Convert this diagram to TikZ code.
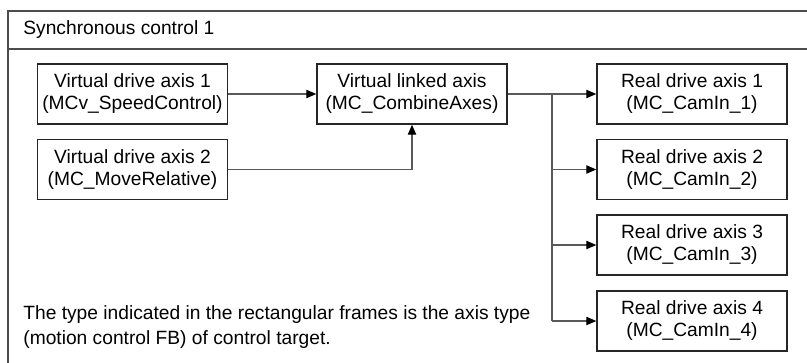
\documentclass[tikz,border=0pt]{standalone}
\usepackage{fontspec}
\setmainfont{Liberation Sans}
\usepackage{tikz}
\usetikzlibrary{arrows.meta, positioning, calc}

\begin{document}
\begin{tikzpicture}[
    x=0.5pt, y=-0.5pt,
    box/.style={draw=black!85, line width=0.75pt, minimum width=95pt, minimum height=30pt, inner sep=0pt, font=\fontsize{9.6}{11}\selectfont, align=center},
    frame/.style={draw=black!70, line width=0.7pt},
    line/.style={draw=black!65, line width=0.55pt},
    arrow/.style={line, -{Triangle[length=5pt, width=4.2pt, color=black]}}
]
    \useasboundingbox (0,0) rectangle (807,363);
    \clip (0,0) rectangle (807,363);

    % outer frame
    \draw[frame] (8,11) rectangle (840,400);
    \draw[frame] (8,49) -- (840,49);
    \node[anchor=west, inner sep=0pt, font=\fontsize{9.6}{11}\selectfont] (title) at (23,30) {Synchronous control 1};

    \node[box] (vd1) at (132.5,94) {Virtual drive axis 1\\(MCv\_SpeedControl)};
    \node[box] (vd2) at (132.5,169.5) {Virtual drive axis 2\\(MC\_MoveRelative)};
    \node[box] (vl)  at (412,94) {Virtual linked axis\\(MC\_CombineAxes)};

    \node[box] (rd1) at (692,94) {Real drive axis 1\\(MC\_CamIn\_1)};
    \node[box] (rd2) at (692,169.5) {Real drive axis 2\\(MC\_CamIn\_2)};
    \node[box] (rd3) at (692,245) {Real drive axis 3\\(MC\_CamIn\_3)};
    \node[box] (rd4) at (692,321) {Real drive axis 4\\(MC\_CamIn\_4)};

    \coordinate (split) at (552,94);

    \draw[arrow] (vd1) -- (vl);
    \draw[arrow] (vd2.east) -| (vl.south);
    \draw[arrow] (vl) -- (rd1);
    \draw[line] (split) -- (split |- rd4.west);
    \draw[arrow] (split |- rd2.west) -- (rd2.west);
    \draw[arrow] (split |- rd3.west) -- (rd3.west);
    \draw[arrow] (split |- rd4.west) -- (rd4.west);

    \node[anchor=west, inner sep=0pt, align=left, font=\fontsize{9.6}{12.5}\selectfont] (note) at (23,327)
        {The type indicated in the rectangular frames is the axis type\\(motion control FB) of control target.};
\end{tikzpicture}
\end{document}
